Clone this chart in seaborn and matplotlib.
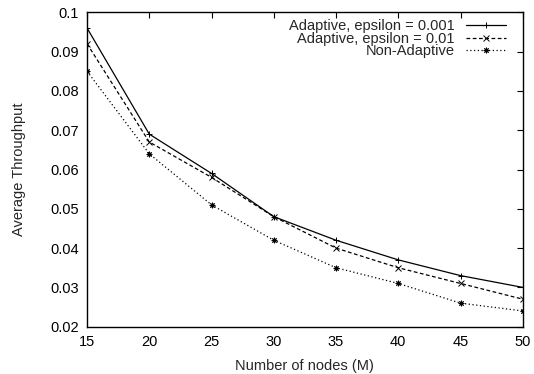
import pandas as pd
import seaborn as sns
import matplotlib.pyplot as plt

# data
nodes = [15, 20, 25, 30, 35, 40, 45, 50]
adaptive_0001 = [0.096, 0.069, 0.059, 0.048, 0.042, 0.037, 0.033, 0.030]
adaptive_001 = [0.092, 0.067, 0.058, 0.048, 0.040, 0.035, 0.031, 0.027]
non_adaptive = [0.085, 0.064, 0.051, 0.042, 0.035, 0.031, 0.026, 0.024]
labels = ['Adaptive, epsilon = 0.001', 'Adaptive, epsilon = 0.01', 'Non-Adaptive']
yticks = [0.02, 0.03, 0.04, 0.05, 0.06, 0.07, 0.08, 0.09, 0.1]
ytick_labels = ['0.02', '0.03', '0.04', '0.05', '0.06', '0.07', '0.08', '0.09', '0.1']

data = pd.concat([
    pd.DataFrame({'M': nodes, 'Throughput': vals, 'Series': lab})
    for vals, lab in zip([adaptive_0001, adaptive_001, non_adaptive], labels)
])

sns.set_style('white')
plt.rcParams['font.family'] = ['Liberation Sans', 'DejaVu Sans']
plt.rcParams['xtick.direction'] = 'in'
plt.rcParams['ytick.direction'] = 'in'

fig = plt.figure(figsize=(5.34, 3.74), dpi=100)
ax = fig.add_axes([0.163, 0.1265, 0.816, 0.8405])

ax = sns.lineplot(
    data=data,
    x='M',
    y='Throughput',
    hue='Series',
    style='Series',
    hue_order=labels,
    style_order=labels,
    palette=['black'] * 3,
    dashes={labels[0]: '', labels[1]: (3, 2), labels[2]: (1, 2)},
    markers={labels[0]: '+', labels[1]: 'x', labels[2]: (8, 2, 0)},
    markersize=4,
    markeredgewidth=0.7,
    markeredgecolor='black',
    linewidth=0.9,
    legend=False,
    ax=ax,
)

fs = 10.5
ax.set_xlim(15, 50)
ax.set_ylim(0.02, 0.1)
ax.set_xticks(nodes)
ax.set_yticks(yticks)
ax.set_yticklabels(ytick_labels)
ax.tick_params(axis='both', labelsize=fs, length=4, width=0.8,
               top=True, right=True, colors='black')
ax.tick_params(axis='y', pad=6)
ax.tick_params(axis='x', pad=6)
ax.set_xlabel('Number of nodes (M)', fontsize=fs, labelpad=7)
ax.set_ylabel('Average Throughput', fontsize=fs, labelpad=17)
for s in ax.spines.values():
    s.set_color('black')
    s.set_linewidth(1.0)

ax.legend(
    ax.lines[:3],
    labels,
    loc='upper right',
    bbox_to_anchor=(0.985, 1.01),
    markerfirst=False,
    frameon=False,
    fontsize=fs,
    handlelength=2.75,
    handletextpad=0.75,
    labelspacing=-0.1,
    borderaxespad=0.3,
)

fig.savefig('out.png', dpi=100)
